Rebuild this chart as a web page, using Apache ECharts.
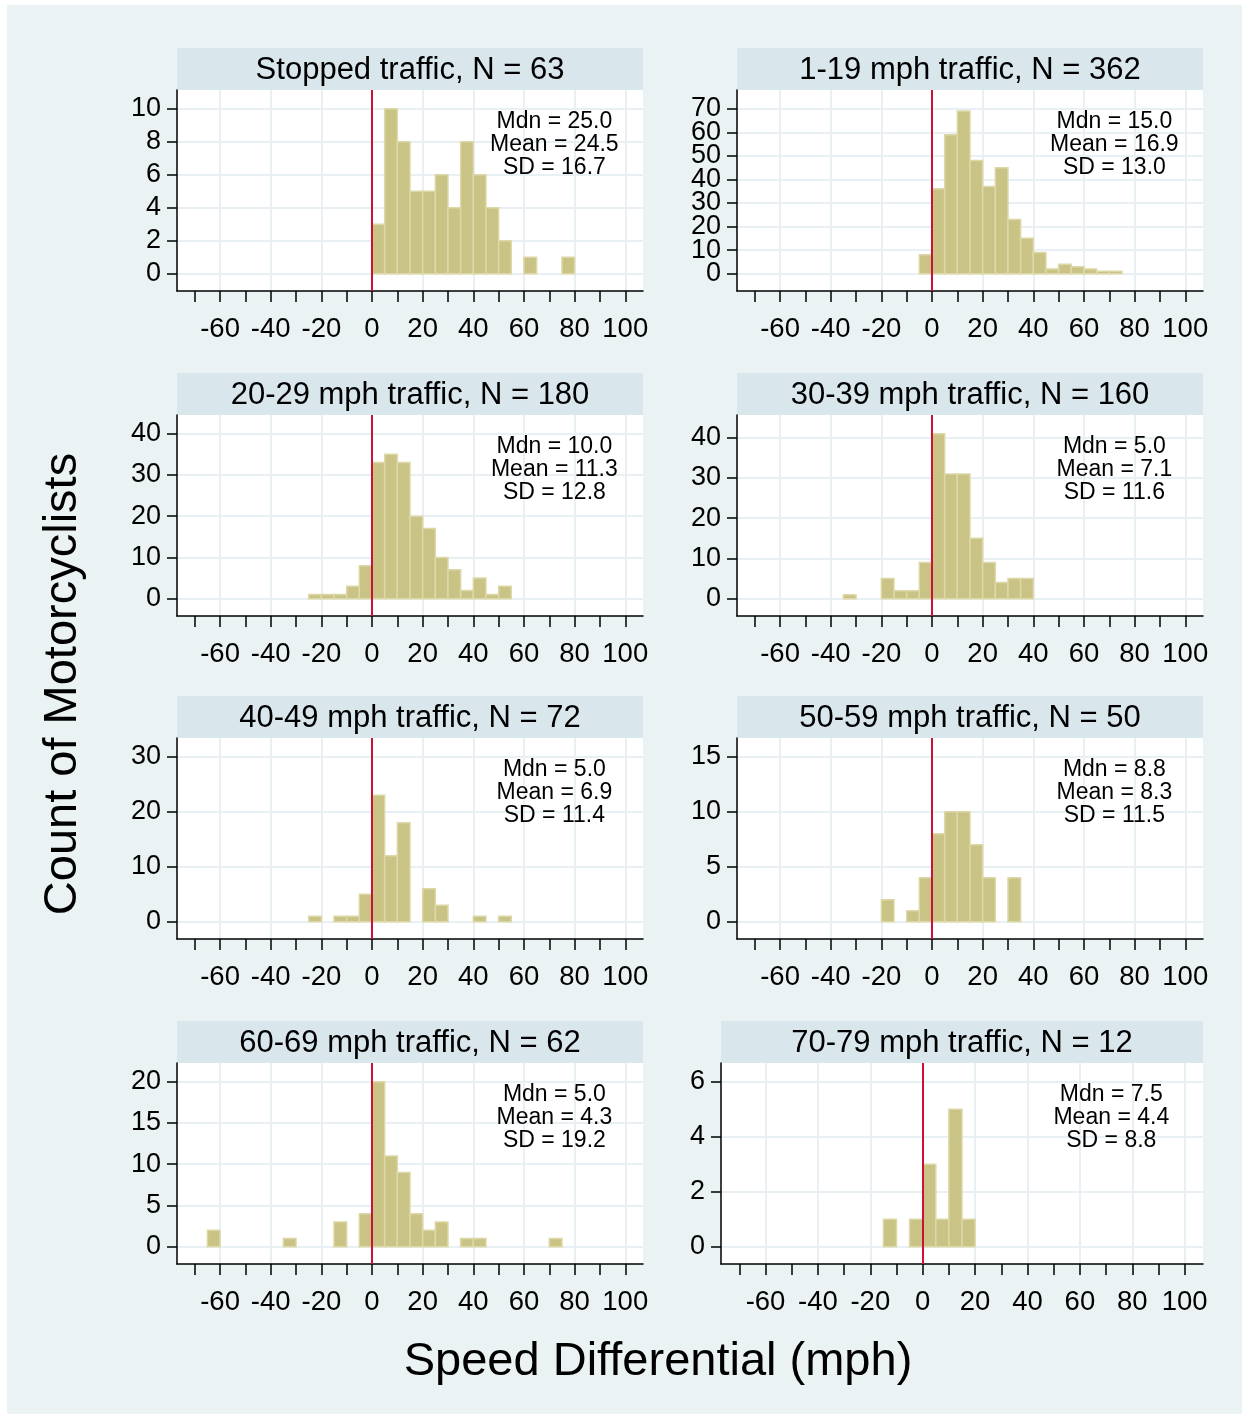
<!DOCTYPE html>
<html><head><meta charset="utf-8">
<script src="https://cdn.jsdelivr.net/npm/echarts@6/dist/echarts.min.js"></script>
<style>html,body{margin:0;padding:0;background:#fff}#c{width:1242px;height:1414px}</style>
</head><body><div id="c"></div>
<script>
// ---------------- DATA ----------------
const panelTitles = [
  'Stopped traffic, N = 63', '1-19 mph traffic, N = 362',
  '20-29 mph traffic, N = 180', '30-39 mph traffic, N = 160',
  '40-49 mph traffic, N = 72', '50-59 mph traffic, N = 50',
  '60-69 mph traffic, N = 62', '70-79 mph traffic, N = 12'
];
const statMdn  = ['25.0', '15.0', '10.0', '5.0', '5.0', '8.8', '5.0', '7.5'];
const statMean = ['24.5', '16.9', '11.3', '7.1', '6.9', '8.3', '4.3', '4.4'];
const statSD   = ['16.7', '13.0', '12.8', '11.6', '11.4', '11.5', '19.2', '8.8'];
const binWidth = 5;
const binStarts = [0, -5, -25, -35, -25, -20, -65, -15];
const countsStopped = [3, 10, 8, 5, 5, 6, 4, 8, 6, 4, 2, 0, 1, 0, 0, 1];
const counts1to19   = [8, 36, 59, 69, 48, 37, 45, 23, 15, 9, 2, 4, 3, 2, 1, 1];
const counts20to29  = [1, 1, 1, 3, 8, 33, 35, 33, 20, 17, 10, 7, 2, 5, 1, 3];
const counts30to39  = [1, 0, 0, 5, 2, 2, 9, 41, 31, 31, 15, 9, 4, 5, 5];
const counts40to49  = [1, 0, 1, 1, 5, 23, 12, 18, 0, 6, 3, 0, 0, 1, 0, 1];
const counts50to59  = [2, 0, 1, 4, 8, 10, 10, 7, 4, 0, 4];
const counts60to69  = [2, 0, 0, 0, 0, 0, 1, 0, 0, 0, 3, 0, 4, 20, 11, 9, 4, 2, 3, 0, 1, 1, 0, 0, 0, 0, 0, 1];
const counts70to79  = [1, 0, 1, 3, 1, 5, 1];
const panelCounts = [countsStopped, counts1to19, counts20to29, counts30to39, counts40to49, counts50to59, counts60to69, counts70to79];
const yTickStep = [2, 10, 10, 10, 10, 5, 5, 2];
const yTickMax  = [10, 70, 40, 40, 30, 15, 20, 6];
const xTickValues  = [-70, -60, -50, -40, -30, -20, -10, 0, 10, 20, 30, 40, 50, 60, 70, 80, 90, 100];
const xLabelValues = [-60, -40, -20, 0, 20, 40, 60, 80, 100];
const xTitle = 'Speed Differential (mph)';
const yTitle = 'Count of Motorcyclists';

// ---------------- LAYOUT ----------------
const FONT = "'Liberation Sans', Arial, Helvetica, sans-serif";
const xMin = -77, xMax = 107;
const rowTop = [90, 415, 738, 1063];
const plotH = 201;
const stripH = 42;
function panelBox(i) {
  const row = Math.floor(i / 2), col = i % 2;
  if (i === 7) return { left: 721, top: rowTop[row], width: 482 };
  return { left: col === 0 ? 177 : 737, top: rowTop[row], width: 466 };
}
const axisBlack = { color: '#000', width: 1.5 };
const gridColor = '#e8f0f3';

const grids = [], xAxes = [], yAxes = [], series = [];
const graphics = [];

function yAxisDef(i, vals, min, max, showLine) {
  return { gridIndex: i, type: 'value', position: 'left', min: min, max: max,
    axisLine: { show: showLine, onZero: false, lineStyle: axisBlack },
    axisTick: { show: true, length: 10, customValues: vals, lineStyle: axisBlack },
    axisLabel: { customValues: vals, fontSize: 27, color: '#000', margin: 16, fontFamily: FONT,
      hideOverlap: false, showMinLabel: true, showMaxLabel: true },
    splitLine: { show: true, lineStyle: { color: gridColor, width: 2 } } };
}

panelCounts.forEach((counts, i) => {
  const b = panelBox(i);
  grids.push({ left: b.left, top: b.top, width: b.width, height: plotH, show: true,
    backgroundColor: '#ffffff', borderWidth: 0, containLabel: false, outerBoundsMode: 'none' });
  const ytA = [], ytB = [];
  let k = 0;
  for (let v = 0; v <= yTickMax[i]; v += yTickStep[i]) { (k % 2 === 0 ? ytA : ytB).push(v); k++; }
  const T = Math.max(yTickMax[i], Math.max(...counts));
  const yMin = -0.1048 * T, yMax = 1.1133 * T;
  yAxes.push(yAxisDef(i, ytA, yMin, yMax, true));
  yAxes.push(yAxisDef(i, ytB, yMin, yMax, false));
  // axis for tick marks (every 10)
  xAxes.push({ gridIndex: i, type: 'value', position: 'bottom', min: xMin, max: xMax,
    axisLine: { show: true, onZero: false, lineStyle: axisBlack },
    axisTick: { show: true, length: 11, customValues: xTickValues, lineStyle: axisBlack },
    axisLabel: { show: false }, splitLine: { show: false } });
  // axis for labels and gridlines (every 20)
  xAxes.push({ gridIndex: i, type: 'value', position: 'bottom', min: xMin, max: xMax,
    axisLine: { show: false, onZero: false },
    axisTick: { show: false, customValues: xLabelValues },
    axisLabel: { customValues: xLabelValues, fontSize: 27.5, color: '#000', margin: 24, fontFamily: FONT,
      hideOverlap: false, showMinLabel: true, showMaxLabel: true },
    splitLine: { show: true, lineStyle: { color: gridColor, width: 2 } } });

  const data = [];
  counts.forEach((c, j) => {
    if (c > 0) {
      const x0 = binStarts[i] + j * binWidth;
      data.push([x0, x0 + binWidth, c]);
    }
  });
  series.push({ type: 'custom', xAxisIndex: 2 * i, yAxisIndex: 2 * i, data: data,
    encode: { x: [0, 1], y: 2 }, z: 2,
    renderItem: function (params, api) {
      const p0 = api.coord([api.value(0), api.value(2)]);
      const p1 = api.coord([api.value(1), 0]);
      return { type: 'rect',
        shape: { x: p0[0], y: p0[1], width: p1[0] - p0[0], height: p1[1] - p0[1] },
        style: { fill: '#cac386', stroke: '#ddd8a7', lineWidth: 1.5 } };
    } });
  series.push({ type: 'line', xAxisIndex: 2 * i, yAxisIndex: 2 * i, data: [], z: 5,
    markLine: { silent: true, symbol: 'none', animation: false,
      label: { show: false },
      lineStyle: { color: '#cc1038', width: 2, type: 'solid' },
      data: [{ xAxis: 0 }] } });

  // strip + title
  graphics.push({ type: 'rect', shape: { x: b.left, y: b.top - stripH, width: b.width, height: stripH },
    style: { fill: '#d9e6ec' }, silent: true });
  graphics.push({ type: 'text', z: 50, x: b.left + b.width / 2, y: b.top - 20,
    style: { text: panelTitles[i], fill: '#000', font: '31px ' + FONT, textAlign: 'center', textVerticalAlign: 'middle' }, silent: true });
  // stats text
  const sx = b.left + (72 - xMin) / (xMax - xMin) * b.width;
  graphics.push({ type: 'text', z: 50, x: sx, y: b.top + 20,
    style: { text: 'Mdn = ' + statMdn[i] + '\nMean = ' + statMean[i] + '\nSD = ' + statSD[i],
      fill: '#000', font: '23px ' + FONT, lineHeight: 23, textAlign: 'center', textVerticalAlign: 'top' }, silent: true });
});

// axis titles
graphics.push({ type: 'text', z: 50, x: 63, y: 684, rotation: Math.PI / 2,
  style: { text: yTitle, fill: '#000', font: '47px ' + FONT, textAlign: 'center', textVerticalAlign: 'middle' }, silent: true });
graphics.push({ type: 'text', z: 50, x: 658, y: 1362,
  style: { text: xTitle, fill: '#000', font: '47px ' + FONT, textAlign: 'center', textVerticalAlign: 'middle' }, silent: true });
// outer white margins
graphics.push({ type: 'rect', z: 100, shape: { x: 0, y: 0, width: 1242, height: 5 }, style: { fill: '#ffffff' }, silent: true });
graphics.push({ type: 'rect', z: 100, shape: { x: 0, y: 0, width: 7, height: 1414 }, style: { fill: '#ffffff' }, silent: true });

const chart = echarts.init(document.getElementById('c'), null, { renderer: 'canvas' });
chart.setOption({
  animation: false,
  backgroundColor: '#eaf2f3',
  textStyle: { fontFamily: FONT },
  grid: grids, xAxis: xAxes, yAxis: yAxes, series: series,
  graphic: { elements: graphics }
});
</script></body></html>
